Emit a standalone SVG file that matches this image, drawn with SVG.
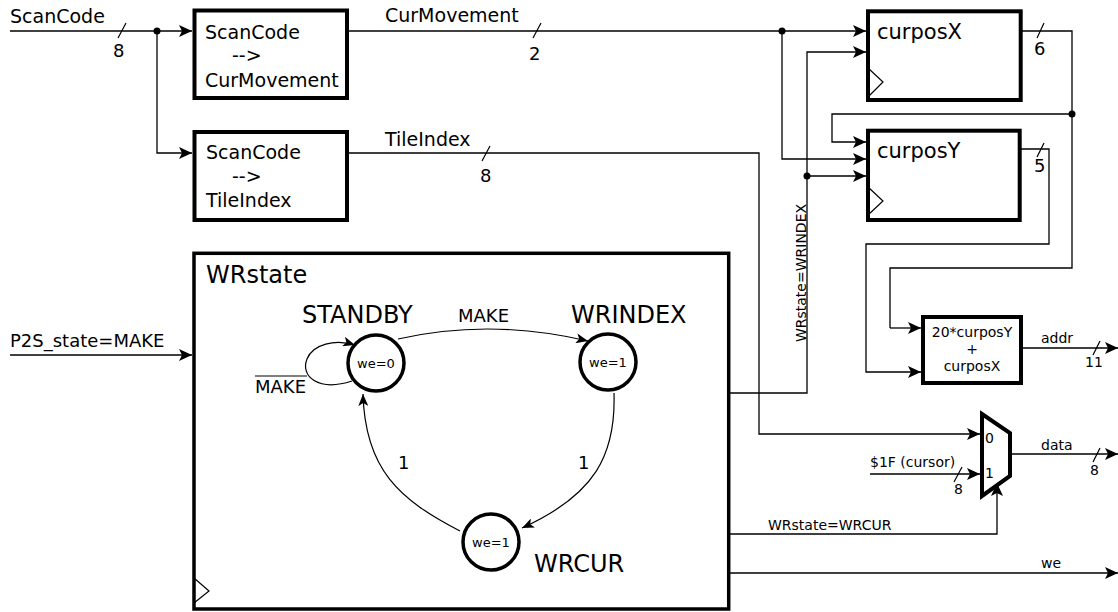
<svg xmlns="http://www.w3.org/2000/svg" width="1118" height="612" viewBox="0 0 1118 612">
<style>
text{font-family:"DejaVu Sans","Liberation Sans",sans-serif;fill:#000}
.big{font-size:19px}
.lg{font-size:24px}
.md{font-size:18px}
.sm{font-size:14px}
.xs{font-size:13px}
.blk{fill:#fff;stroke:#000;stroke-width:4}
.st{fill:#fff;stroke:#000;stroke-width:3.5}
.w{fill:none;stroke:#000;stroke-width:1.3}
.wa{fill:none;stroke:#000;stroke-width:1.3;marker-end:url(#arr)}
.ta{fill:none;stroke:#000;stroke-width:1.2;marker-end:url(#sarr)}
.sl{stroke:#000;stroke-width:1.2}
.clk{fill:none;stroke:#000;stroke-width:1.2}
</style>
<defs>
<marker id="arr" markerUnits="userSpaceOnUse" markerWidth="14" markerHeight="12" refX="13" refY="6" orient="auto">
<path d="M0,0 L13,6 L0,12 L3,6 z" fill="#000"/>
</marker>
<marker id="sarr" markerUnits="userSpaceOnUse" markerWidth="13" markerHeight="10" refX="12" refY="5" orient="auto">
<path d="M0,0 L12,5 L0,10 L3,5 z" fill="#000"/>
</marker>
</defs>

<g id="connectors">
<path class="wa" d="M10,31 H192"/>
<path class="wa" d="M157,31 V153 H192"/>
<path class="wa" d="M347,31 H866"/>
<path class="wa" d="M347,153 H759 V434 H980"/>
<path class="wa" d="M782,31 V159 H866"/>
<path class="wa" d="M730,393 H807 V52 H866"/>
<path class="wa" d="M807,176 H866"/>
<path class="w" d="M1021,31 H1072 V268 H890 V328"/>
<path class="wa" d="M890,328 H921"/>
<path class="wa" d="M1072,114 H832 V142 H866"/>
<path class="wa" d="M1020,149 H1049 V244 H866 V372 H921"/>
<path class="wa" d="M1021,348 H1118"/>
<path class="wa" d="M10,355 H192"/>
<path class="wa" d="M870,474 H980"/>
<path class="wa" d="M1010,454 H1118"/>
<path class="wa" d="M730,534 H997 V483"/>
<path class="wa" d="M730,573 H1118"/>
<circle cx="157" cy="31" r="3.5" fill="#000"/>
<circle cx="782" cy="31" r="3.5" fill="#000"/>
<circle cx="807" cy="176" r="3.5" fill="#000"/>
<circle cx="1072" cy="114" r="3.5" fill="#000"/>
<line class="sl" x1="118" y1="38" x2="126" y2="23"/>
<line class="sl" x1="533" y1="38" x2="541" y2="23"/>
<line class="sl" x1="482" y1="161" x2="490" y2="146"/>
<line class="sl" x1="1037" y1="38" x2="1044" y2="23"/>
<line class="sl" x1="1037" y1="157" x2="1044" y2="143"/>
<line class="sl" x1="1093" y1="355" x2="1100" y2="341"/>
<line class="sl" x1="954" y1="482" x2="962" y2="467"/>
<line class="sl" x1="1093" y1="462" x2="1100" y2="448"/>
<text class="big" x="10" y="23">ScanCode</text>
<text class="md" x="113" y="57">8</text>
<text class="big" x="385" y="22">CurMovement</text>
<text class="md" x="529" y="60">2</text>
<text class="big" x="385" y="146">TileIndex</text>
<text class="md" x="480" y="182">8</text>
<text class="md" x="1034" y="55">6</text>
<text class="md" x="1034" y="172">5</text>
<text class="md" x="10" y="347">P2S_state=MAKE</text>
<text class="sm" x="1041" y="343">addr</text>
<text class="sm" x="1085" y="367">11</text>
<text class="sm" x="870" y="467">$1F (cursor)</text>
<text class="sm" x="954" y="494">8</text>
<text class="sm" x="1041" y="450">data</text>
<text class="sm" x="1090" y="475">8</text>
<text class="sm" x="768" y="530">WRstate=WRCUR</text>
<text class="sm" x="1041" y="568">we</text>
<text class="sm" transform="translate(805.5,273) rotate(-90)" text-anchor="middle">WRstate=WRINDEX</text>
</g>

<g id="sc2cm">
<rect class="blk" x="194.5" y="10.5" width="152.5" height="87.5"/>
<text class="big" x="205" y="39">ScanCode</text>
<text class="big" x="232" y="62">--&gt;</text>
<text class="big" x="205" y="87">CurMovement</text>
</g>

<g id="sc2ti">
<rect class="blk" x="194.5" y="132" width="152.5" height="88"/>
<text class="big" x="206" y="159">ScanCode</text>
<text class="big" x="232" y="183">--&gt;</text>
<text class="big" x="206" y="207">TileIndex</text>
</g>

<g id="curposX">
<rect class="blk" x="868" y="11.3" width="152.7" height="88.7"/>
<polyline class="clk" points="868,68 883,82 868,97"/>
<text class="big" x="877" y="39" style="font-size:21px">curposX</text>
</g>

<g id="curposY">
<rect class="blk" x="868" y="130.7" width="151.7" height="89.3"/>
<polyline class="clk" points="868,187 883,201 868,215"/>
<text class="big" x="877" y="158" style="font-size:21px">curposY</text>
</g>

<g id="adder">
<rect class="blk" x="923" y="317" width="98" height="66"/>
<text class="sm" x="972" y="337" text-anchor="middle">20*curposY</text>
<text class="sm" x="972" y="354" text-anchor="middle">+</text>
<text class="sm" x="972" y="371" text-anchor="middle">curposX</text>
</g>

<g id="mux">
<polygon class="blk" points="982,414 1010,433 1010,476 982,496"/>
<text class="sm" x="985" y="443">0</text>
<text class="sm" x="985" y="478">1</text>
</g>

<g id="wrstate">
<rect class="st" x="194" y="253.3" width="534.7" height="355.7"/>
<polyline class="clk" points="194,578 209,591 194,603"/>
<text class="lg" x="206" y="283">WRstate</text>
<g id="fsm-edges">
<path class="ta" d="M352,381 C318,392 300,376 307,359 C313,344 335,339 355,345"/>
<path class="ta" d="M398,339 Q490,318 588,341"/>
<path class="ta" d="M614,393 C616,455 595,495 522,528"/>
<path class="ta" d="M460,531 C400,500 365,470 363,394"/>
<text class="md" x="458" y="322">MAKE</text>
<text class="md" x="255" y="393">MAKE</text>
<line class="sl" x1="255" y1="376" x2="307" y2="376"/>
<text class="md" x="398" y="469">1</text>
<text class="md" x="578" y="469">1</text>
</g>
<g id="standby">
<circle class="st" cx="376" cy="363" r="28"/>
<text class="xs" x="376" y="368" text-anchor="middle">we=0</text>
<text class="lg" x="302" y="323">STANDBY</text>
</g>
<g id="wrindex">
<circle class="st" cx="608" cy="362" r="28"/>
<text class="xs" x="608" y="367" text-anchor="middle">we=1</text>
<text class="lg" x="571" y="323">WRINDEX</text>
</g>
<g id="wrcur">
<circle class="st" cx="491" cy="542" r="28"/>
<text class="xs" x="491" y="547" text-anchor="middle">we=1</text>
<text class="lg" x="534" y="572">WRCUR</text>
</g>
</g>
</svg>
